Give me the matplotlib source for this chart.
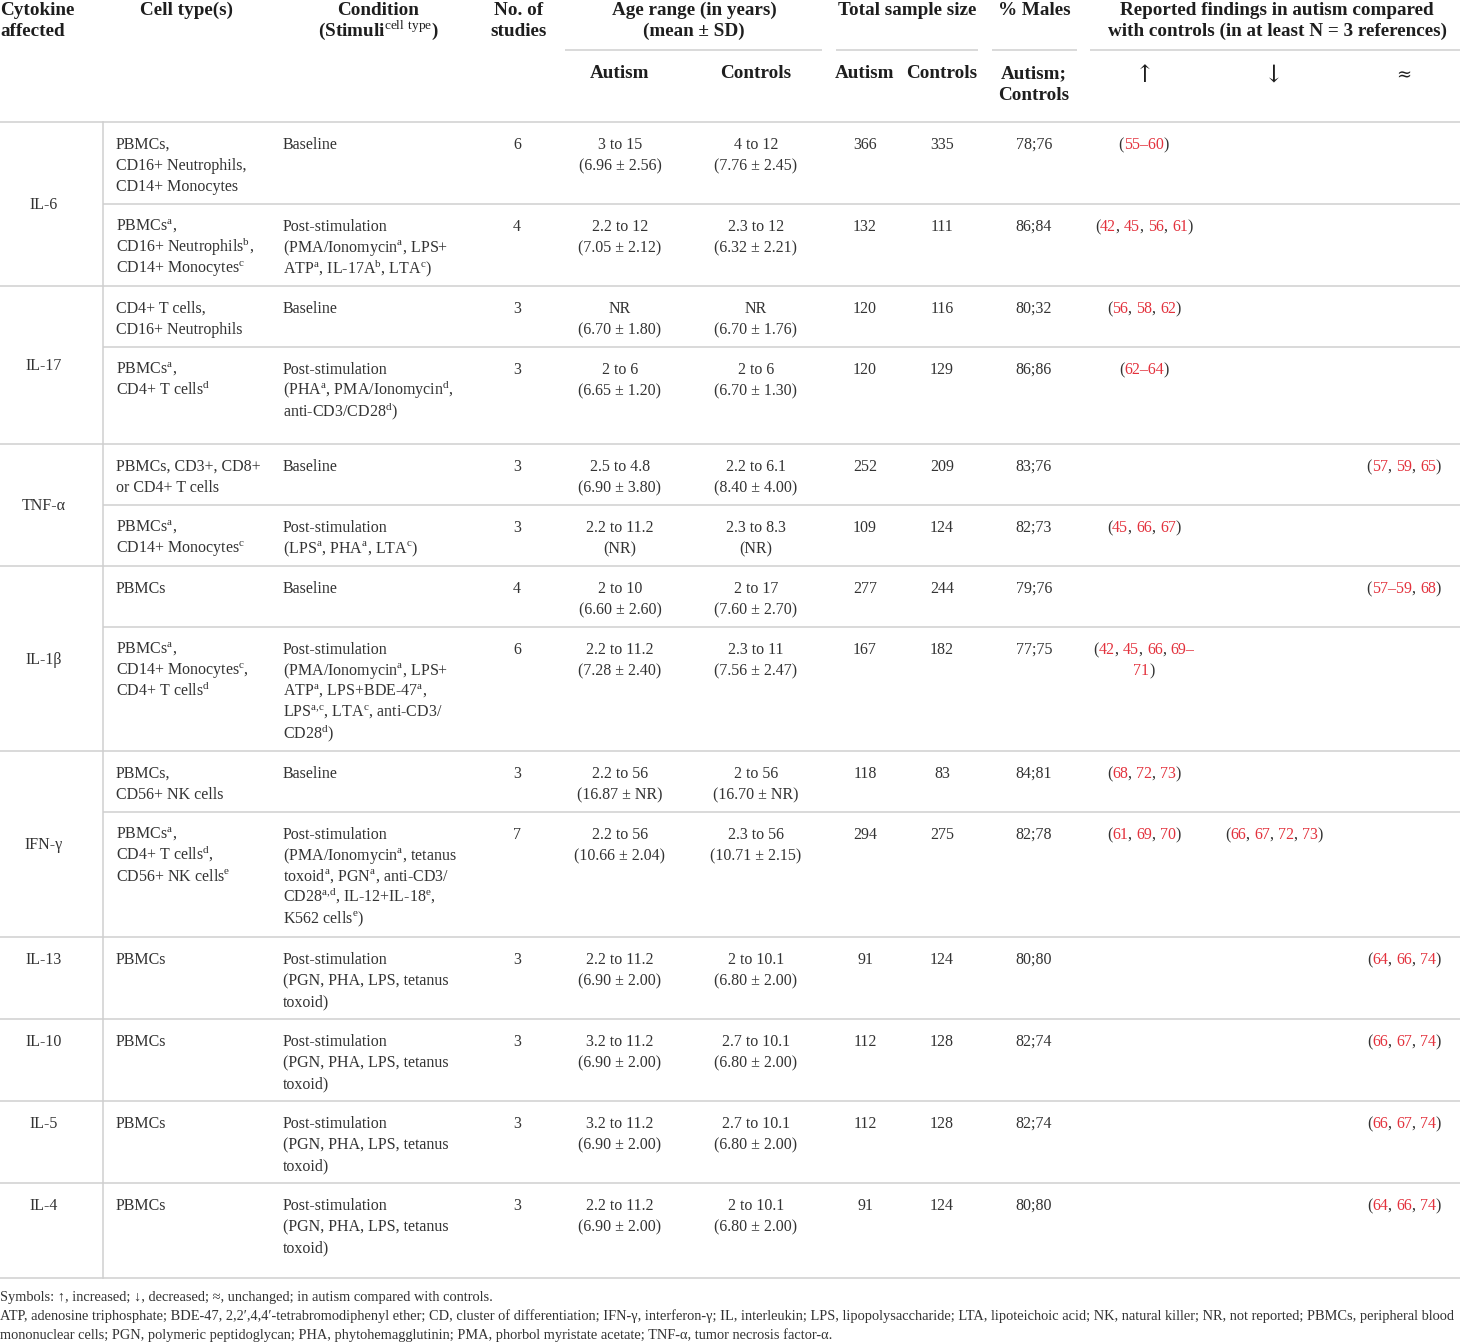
import re
import matplotlib
matplotlib.use("Agg")
import matplotlib.pyplot as plt

plt.rcParams['font.family'] = ['Liberation Serif', 'DejaVu Serif']
plt.rcParams['mathtext.fontset'] = 'custom'
plt.rcParams['mathtext.rm'] = 'Liberation Serif'

# --- datos de la tabla ---
cytokines = ['IL-6', 'IL-17', 'TNF-α', 'IL-1β', 'IFN-γ', 'IL-13', 'IL-10', 'IL-5', 'IL-4']
group_sizes = [2, 2, 2, 2, 2, 1, 1, 1, 1]

cell_types = [
    ['PBMCs,', 'CD16+ Neutrophils,', 'CD14+ Monocytes'],
    ['PBMCs{a},', 'CD16+ Neutrophils{b},', 'CD14+ Monocytes{c}'],
    ['CD4+ T cells,', 'CD16+ Neutrophils'],
    ['PBMCs{a},', 'CD4+ T cells{d}'],
    ['PBMCs, CD3+, CD8+', 'or CD4+ T cells'],
    ['PBMCs{a},', 'CD14+ Monocytes{c}'],
    ['PBMCs'],
    ['PBMCs{a},', 'CD14+ Monocytes{c},', 'CD4+ T cells{d}'],
    ['PBMCs,', 'CD56+ NK cells'],
    ['PBMCs{a},', 'CD4+ T cells{d},', 'CD56+ NK cells{e}'],
    ['PBMCs'],
    ['PBMCs'],
    ['PBMCs'],
    ['PBMCs'],
]
conditions = [
    ['Baseline'],
    ['Post-stimulation', '(PMA/Ionomycin{a}, LPS+', 'ATP{a}, IL-17A{b}, LTA{c})'],
    ['Baseline'],
    ['Post-stimulation', '(PHA{a}, PMA/Ionomycin{d},', 'anti-CD3/CD28{d})'],
    ['Baseline'],
    ['Post-stimulation', '(LPS{a}, PHA{a}, LTA{c})'],
    ['Baseline'],
    ['Post-stimulation', '(PMA/Ionomycin{a}, LPS+', 'ATP{a}, LPS+BDE-47{a},',
     'LPS{a,c}, LTA{c}, anti-CD3/', 'CD28{d})'],
    ['Baseline'],
    ['Post-stimulation', '(PMA/Ionomycin{a}, tetanus', 'toxoid{a}, PGN{a}, anti-CD3/',
     'CD28{a,d}, IL-12+IL-18{e},', 'K562 cells{e})'],
    ['Post-stimulation', '(PGN, PHA, LPS, tetanus', 'toxoid)'],
    ['Post-stimulation', '(PGN, PHA, LPS, tetanus', 'toxoid)'],
    ['Post-stimulation', '(PGN, PHA, LPS, tetanus', 'toxoid)'],
    ['Post-stimulation', '(PGN, PHA, LPS, tetanus', 'toxoid)'],
]
n_studies = [6, 4, 3, 3, 3, 3, 4, 6, 3, 7, 3, 3, 3, 3]
age_autism = [
    ['3 to 15', '(6.96 ± 2.56)'], ['2.2 to 12', '(7.05 ± 2.12)'],
    ['NR', '(6.70 ± 1.80)'], ['2 to 6', '(6.65 ± 1.20)'],
    ['2.5 to 4.8', '(6.90 ± 3.80)'], ['2.2 to 11.2', '(NR)'],
    ['2 to 10', '(6.60 ± 2.60)'], ['2.2 to 11.2', '(7.28 ± 2.40)'],
    ['2.2 to 56', '(16.87 ± NR)'], ['2.2 to 56', '(10.66 ± 2.04)'],
    ['2.2 to 11.2', '(6.90 ± 2.00)'], ['3.2 to 11.2', '(6.90 ± 2.00)'],
    ['3.2 to 11.2', '(6.90 ± 2.00)'], ['2.2 to 11.2', '(6.90 ± 2.00)'],
]
age_controls = [
    ['4 to 12', '(7.76 ± 2.45)'], ['2.3 to 12', '(6.32 ± 2.21)'],
    ['NR', '(6.70 ± 1.76)'], ['2 to 6', '(6.70 ± 1.30)'],
    ['2.2 to 6.1', '(8.40 ± 4.00)'], ['2.3 to 8.3', '(NR)'],
    ['2 to 17', '(7.60 ± 2.70)'], ['2.3 to 11', '(7.56 ± 2.47)'],
    ['2 to 56', '(16.70 ± NR)'], ['2.3 to 56', '(10.71 ± 2.15)'],
    ['2 to 10.1', '(6.80 ± 2.00)'], ['2.7 to 10.1', '(6.80 ± 2.00)'],
    ['2.7 to 10.1', '(6.80 ± 2.00)'], ['2 to 10.1', '(6.80 ± 2.00)'],
]
n_autism = [366, 132, 120, 120, 252, 109, 277, 167, 118, 294, 91, 112, 112, 91]
n_controls = [335, 111, 116, 129, 209, 124, 244, 182, 83, 275, 124, 128, 128, 124]
pct_males = ['78;76', '86;84', '80;32', '86;86', '83;76', '82;73', '79;76',
             '77;75', '84;81', '82;78', '80;80', '82;74', '82;74', '80;80']
refs_up = [['(55–60)'], ['(42, 45, 56, 61)'], ['(56, 58, 62)'], ['(62–64)'], [],
           ['(45, 66, 67)'], [], ['(42, 45, 66, 69–', '71)'], ['(68, 72, 73)'],
           ['(61, 69, 70)'], [], [], [], []]
refs_down = [[], [], [], [], [], [], [], [], [], ['(66, 67, 72, 73)'], [], [], [], []]
refs_same = [[], [], [], [], ['(57, 59, 65)'], [], ['(57–59, 68)'], [], [], [],
             ['(64, 66, 74)'], ['(66, 67, 74)'], ['(66, 67, 74)'], ['(64, 66, 74)']]

footnotes = [
    'Symbols: ↑, increased; ↓, decreased; ≈, unchanged; in autism compared with controls.',
    'ATP, adenosine triphosphate; BDE-47, 2,2′,4,4′-tetrabromodiphenyl ether; CD, cluster of '
    'differentiation; IFN-γ, interferon-γ; IL, interleukin; LPS, lipopolysaccharide; LTA, '
    'lipoteichoic acid; NK, natural killer; NR, not reported; PBMCs, peripheral blood',
    'mononuclear cells; PGN, polymeric peptidoglycan; PHA, phytohemagglutinin; PMA, phorbol '
    'myristate acetate; TNF-α, tumor necrosis factor-α.',
]

# --- maquetación (pixeles) ---
W, H = 1460, 1342
row_lines = [122, 204, 286, 347, 444, 505, 566, 627, 751, 812, 937, 1019, 1101, 1183, 1278]
LINE_H = 21
PAD_TOP = 22
BODY_FS = 11.5
HEAD_FS = 13.8
FOOT_FS = 10.4
TXT = '#333333'
HEAD = '#1e1e1e'
RED = '#e3323d'
GRID = '#cfcfcf'
LW = 1.1

X_CYTO = 44
X_CELL = 116
X_COND = 283
X_STUD = 517
X_AGE_A, X_AGE_C = 620, 756
X_N_A, X_N_C = 865, 942
X_MALE = 1034
X_UP, X_DOWN, X_SAME = 1144, 1274, 1404
BASE = 5  # centro visual -> linea base


def sup(s):
    def rep(m):
        body = m.group(1).replace(' ', r'\ ').replace(',', '{,}')
        return r'$^{\mathrm{' + body + '}}$'
    return re.sub(r'\{([^}]*)\}', rep, s)


fig = plt.figure(figsize=(W / 100, H / 100), dpi=100)
ax = fig.add_axes([0, 0, 1, 1])
ax.set_xlim(0, W)
ax.set_ylim(H, 0)
ax.axis('off')
renderer = fig.canvas.get_renderer()


def put(x, y, s, ha='left', fs=BODY_FS, color=TXT, weight='normal'):
    ax.text(x, y + BASE, sup(s), ha=ha, va='baseline', fontsize=fs,
            color=color, fontweight=weight)


def head(x, y, s, ha='center'):
    put(x, y, s, ha=ha, fs=HEAD_FS, color=HEAD, weight='bold')


def text_w(s, fs):
    t = ax.text(0, 0, s, fontsize=fs)
    w = t.get_window_extent(renderer).width
    t.remove()
    return w


def put_refs(xc, y, s, fs=BODY_FS):
    # numeros en rojo, puntuacion en negro
    parts = re.findall(r'[\d–]+|[^\d–]+', s)
    wx = text_w('x', fs)
    total = text_w(s, fs)
    x0 = xc - total / 2
    pos = 0
    for p in parts:
        off = text_w(s[:pos] + 'x', fs) - wx if pos else 0
        c = RED if p[0].isdigit() or p[0] == '–' else TXT
        ax.text(x0 + off, y + BASE, p, ha='left', va='baseline', fontsize=fs, color=c)
        pos += len(p)


# --- encabezado ---
head(0, 10, 'Cytokine', ha='left')
head(0, 31, 'affected', ha='left')
head(187, 10, 'Cell type(s)')
head(378, 10, 'Condition')
head(378, 31, '(Stimuli{cell type})')
head(519, 10, 'No. of')
head(519, 31, 'studies')
head(694, 10, 'Age range (in years)')
head(694, 31, '(mean ± SD)')
head(907, 10, 'Total sample size')
head(1034, 10, '% Males')
head(1277, 10, 'Reported findings in autism compared')
head(1277, 31, 'with controls (in at least N = 3 references)')

for x0, x1 in [(565, 822), (836, 978), (992, 1077), (1090, 1460)]:
    ax.plot([x0, x1], [50, 50], color=GRID, lw=LW, solid_capstyle='butt')

for x, s in [(X_AGE_A, 'Autism'), (X_AGE_C, 'Controls'), (X_N_A, 'Autism'),
             (X_N_C, 'Controls'), (X_MALE, 'Autism;')]:
    head(x, 73, s)
head(X_MALE, 95, 'Controls')
# flechas del encabezado, algo mas grandes
for x, s, fs in [(1145, '↑', 17), (1274, '↓', 17), (1404, '≈', 13)]:
    ax.text(x, 75, s, ha='center', va='center', fontsize=fs, color=HEAD,
            family='DejaVu Serif')

# --- reglas ---
group_ends = []
k = 0
for g in group_sizes:
    k += g
    group_ends.append(k)
for i, y in enumerate(row_lines):
    full = i == 0 or i in group_ends
    ax.plot([0 if full else 103, W], [y, y], color=GRID, lw=LW, solid_capstyle='butt')
ax.plot([103, 103], [row_lines[0], row_lines[-1]], color=GRID, lw=LW)

# --- celdas ---
r = 0
for name, g in zip(cytokines, group_sizes):
    top, bot = row_lines[r], row_lines[r + g]
    yc = (top + bot) / 2 if g > 1 else top + PAD_TOP
    put(X_CYTO, yc, name, ha='center')
    r += g

for i in range(len(n_studies)):
    y0 = row_lines[i] + PAD_TOP
    for j, s in enumerate(cell_types[i]):
        put(X_CELL, y0 + j * LINE_H, s)
    for j, s in enumerate(conditions[i]):
        put(X_COND, y0 + j * LINE_H, s)
    put(X_STUD, y0, str(n_studies[i]), ha='center')
    for j, s in enumerate(age_autism[i]):
        put(X_AGE_A, y0 + j * LINE_H, s, ha='center')
    for j, s in enumerate(age_controls[i]):
        put(X_AGE_C, y0 + j * LINE_H, s, ha='center')
    put(X_N_A, y0, str(n_autism[i]), ha='center')
    put(X_N_C, y0, str(n_controls[i]), ha='center')
    put(X_MALE, y0, pct_males[i], ha='center')
    for xc, refs in [(X_UP, refs_up[i]), (X_DOWN, refs_down[i]), (X_SAME, refs_same[i])]:
        for j, s in enumerate(refs):
            put_refs(xc, y0 + j * LINE_H, s)

# --- notas al pie ---
for j, s in enumerate(footnotes):
    ax.text(0, 1301 + j * 19, s, ha='left', va='baseline', fontsize=FOOT_FS, color=TXT)

fig.savefig('out.png', dpi=100)
